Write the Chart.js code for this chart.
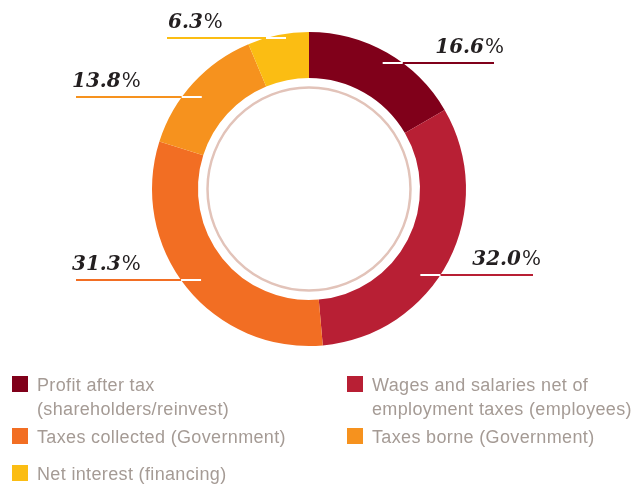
<!DOCTYPE html>
<html>
<head>
<meta charset="utf-8">
<script src="https://cdn.jsdelivr.net/npm/chart.js@4/dist/chart.umd.min.js"></script>
<style>
    html, body { margin: 0; padding: 0; background: #fff; }
    #wrap { position: relative; width: 640px; height: 488px; overflow: hidden; }
    #wrap canvas { position: absolute; left: 0; top: 0; }
    .legend-item { position: absolute; font-family: "Liberation Sans", Arial, sans-serif; font-size: 18px;
        letter-spacing: 0.35px; line-height: 24px; color: #a59b95; white-space: pre-line; }
    .legend-box { position: absolute; width: 16px; height: 16px; }
</style>
</head>
<body>
<div id="wrap">
    <canvas id="shareChart" width="640" height="488"></canvas>
</div>
<script>
// Distribution of value — share of total (%)
const categories = [
    'Profit after tax\n(shareholders/reinvest)',
    'Wages and salaries net of\nemployment taxes (employees)',
    'Taxes collected (Government)',
    'Taxes borne (Government)',
    'Net interest (financing)'
];
const shares = [16.6, 32.0, 31.3, 13.8, 6.3];
const sliceColors = ['#80001a', '#b81f34', '#f26e23', '#f6921e', '#fbbd13'];

// Where each percentage label sits: leader line height, outer end, text anchor
const labelLayout = [
    { lineY: 63,  lineEnd: 494, textX: 503, align: 'right' },
    { lineY: 275, lineEnd: 533, textX: 540, align: 'right' },
    { lineY: 280, lineEnd: 76,  textX: 72,  align: 'left' },
    { lineY: 97,  lineEnd: 76,  textX: 72,  align: 'left' },
    { lineY: 38,  lineEnd: 167, textX: 168, align: 'left' }
];

// Legend placement (two columns)
const legendSlots = [
    { x: 12,  y: 373 }, { x: 347, y: 373 },
    { x: 12,  y: 425 }, { x: 347, y: 425 },
    { x: 12,  y: 462 }
];

// thin ring inside the hole + leader lines with percentage labels
const calloutPlugin = {
    id: 'callouts',
    afterDatasetsDraw(chart) {
        const ctx = chart.ctx;
        const arcs = chart.getDatasetMeta(0).data;
        if (!arcs.length) return;
        const cx = arcs[0].x, cy = arcs[0].y;
        const R = arcs[0].outerRadius, r = arcs[0].innerRadius;

        ctx.save();
        ctx.beginPath();
        ctx.arc(cx, cy, r - 9.5, 0, Math.PI * 2);
        ctx.strokeStyle = '#e2c3b9';
        ctx.lineWidth = 2.5;
        ctx.stroke();

        arcs.forEach((arc, i) => {
            const lay = labelLayout[i];
            const side = lay.lineEnd > cx ? 1 : -1;
            const dy = lay.lineY - cy;
            const edgeX = cx + side * Math.sqrt(Math.max(R * R - dy * dy, 0));

            ctx.lineWidth = 2;
            ctx.strokeStyle = sliceColors[i];
            ctx.beginPath();
            ctx.moveTo(lay.lineEnd, lay.lineY);
            ctx.lineTo(edgeX, lay.lineY);
            ctx.stroke();
            ctx.strokeStyle = '#ffffff';
            ctx.beginPath();
            ctx.moveTo(edgeX, lay.lineY);
            ctx.lineTo(edgeX - side * 20, lay.lineY);
            ctx.stroke();

            // number bold italic, percent sign upright
            const num = shares[i].toFixed(1);
            const numFont = 'italic bold 20px "DejaVu Serif", serif';
            const pctFont = '20px "DejaVu Serif", serif';
            ctx.font = numFont;
            const wNum = ctx.measureText(num).width;
            ctx.font = pctFont;
            const wPct = ctx.measureText('%').width;
            const x0 = lay.align === 'right' ? lay.textX - wNum - wPct : lay.textX;
            const base = lay.lineY - 10;
            ctx.fillStyle = '#231f20';
            ctx.textAlign = 'left';
            ctx.textBaseline = 'alphabetic';
            ctx.font = numFont;
            ctx.fillText(num, x0, base);
            ctx.font = pctFont;
            ctx.fillText('%', x0 + wNum + 1, base);
        });
        ctx.restore();
    }
};

new Chart(document.getElementById('shareChart'), {
    type: 'doughnut',
    data: {
        labels: categories,
        datasets: [{
            data: shares,
            backgroundColor: sliceColors,
            borderWidth: 0,
        }]
    },
    options: {
        responsive: false,
        animation: false,
        cutout: '70.7%',
        events: [],
        layout: { padding: { left: 152, right: 174, top: 32, bottom: 142 } },
        plugins: {
            legend: { display: false },
            tooltip: { enabled: false }
        }
    },
    plugins: [calloutPlugin]
});

// HTML legend built from the same arrays
const wrap = document.getElementById('wrap');
categories.forEach((name, i) => {
    const slot = legendSlots[i];
    const box = document.createElement('div');
    box.className = 'legend-box';
    box.style.left = slot.x + 'px';
    box.style.top = (slot.y + 3) + 'px';
    box.style.background = sliceColors[i];
    wrap.appendChild(box);
    const txt = document.createElement('div');
    txt.className = 'legend-item';
    txt.style.left = (slot.x + 25) + 'px';
    txt.style.top = slot.y + 'px';
    txt.textContent = name;
    wrap.appendChild(txt);
});
</script>
</body>
</html>
